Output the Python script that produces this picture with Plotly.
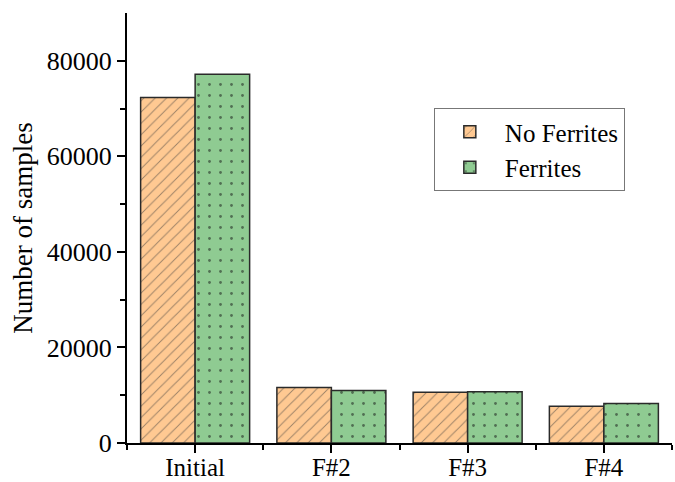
import plotly.graph_objects as go

categories = ["Initial", "F#2", "F#3", "F#4"]
no_ferrites = [72300, 11600, 10600, 7700]
ferrites = [77200, 11000, 10750, 8250]

font_family = "Liberation Serif"
positions = list(range(len(categories)))

fig = go.Figure()
fig.add_trace(go.Bar(
    name="No Ferrites", x=positions, y=no_ferrites,
    marker=dict(color="#FFC992", line=dict(color="#2a2a2a", width=1.5),
                pattern=dict(shape="/", size=8, solidity=0.12, fgcolor="#3a3a3a")),
))
fig.add_trace(go.Bar(
    name="Ferrites", x=positions, y=ferrites,
    marker=dict(color="#8FCB92", line=dict(color="#2a2a2a", width=1.5),
                pattern=dict(shape=".", size=11, solidity=0.05, fgcolor="#111111")),
))

fig.update_layout(
    width=675, height=482,
    margin=dict(l=127, r=3, t=13, b=39),
    paper_bgcolor="white", plot_bgcolor="white",
    barmode="group", bargap=0.2, bargroupgap=0,
    font=dict(family=font_family, size=25, color="black"),
    legend=dict(
        x=0.563, y=0.779, xanchor="left", yanchor="top",
        bordercolor="#777777", borderwidth=1, bgcolor="white",
        font=dict(family=font_family, size=25),
        tracegroupgap=0, itemwidth=60,
    ),
    xaxis=dict(
        range=[-0.5, 3.5], showline=True, linecolor="black", linewidth=2,
        tickvals=positions, ticktext=categories,
        ticks="outside", ticklen=8, tickwidth=1.5, tickcolor="black",
        minor=dict(tickvals=[-0.5, 0.5, 1.5, 2.5, 3.5], ticks="outside",
                   ticklen=5, tickwidth=1.5, tickcolor="black"),
        showgrid=False, zeroline=False, automargin=False,
        ticklabelstandoff=-7,
        tickfont=dict(family=font_family, size=25),
    ),
    yaxis=dict(
        range=[0, 90000], showline=True, linecolor="black", linewidth=2,
        tickvals=[0, 20000, 40000, 60000, 80000],
        ticktext=["0", "20000", "40000", "60000", "80000"],
        ticks="outside", ticklen=8, tickwidth=1.5, tickcolor="black",
        minor=dict(tickvals=[10000, 30000, 50000, 70000], ticks="outside",
                   ticklen=5, tickwidth=1.5, tickcolor="black"),
        showgrid=False, zeroline=False, automargin=False,
        tickfont=dict(family=font_family, size=26),
        title=dict(text="Number of samples", font=dict(family=font_family, size=27), standoff=6),
    ),
)

fig.write_html("out.html")
